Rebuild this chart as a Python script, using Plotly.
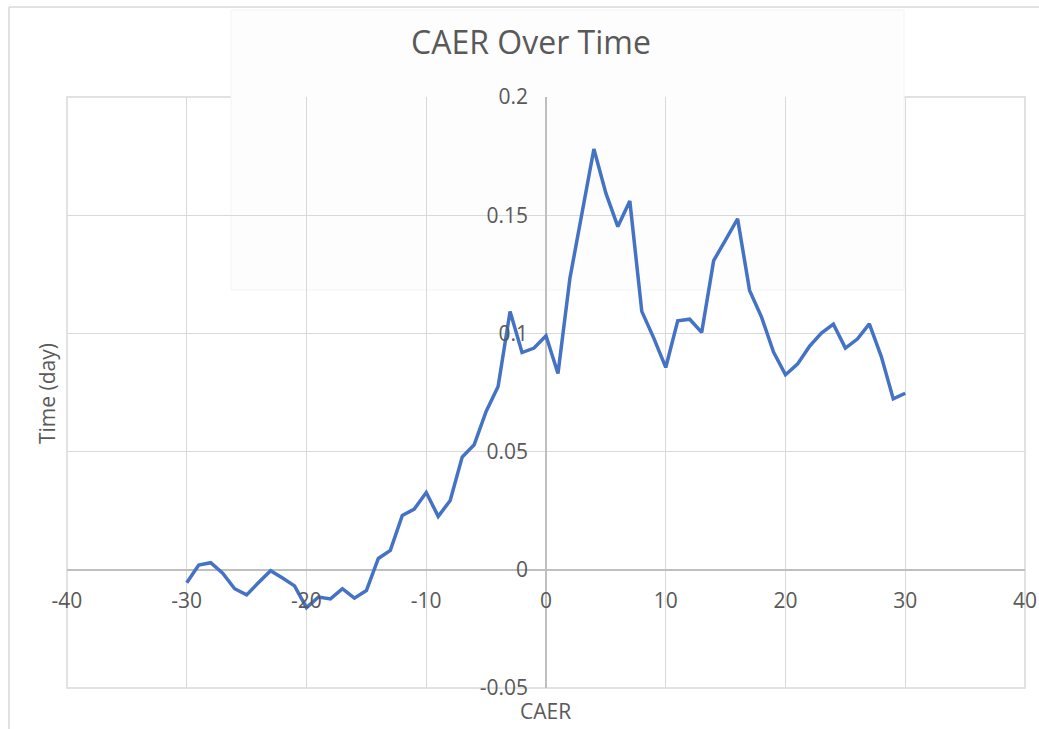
import plotly.graph_objects as go

# Data
days = list(range(-30, 31))
caer = [
    -0.0055, 0.0020, 0.0030, -0.0014, -0.0080, -0.0106, -0.0054, -0.0004, -0.0035, -0.0068,
    -0.0160, -0.0115, -0.0123, -0.0080, -0.0120, -0.0088, 0.0048, 0.0082, 0.0230, 0.0257,
    0.0327, 0.0226, 0.0293, 0.0477, 0.0529, 0.0670, 0.0775, 0.1093, 0.0919, 0.0938,
    0.0990, 0.0830, 0.1234, 0.1516, 0.1780, 0.1593, 0.1452, 0.1560, 0.1093, 0.0980,
    0.0856, 0.1053, 0.1060, 0.1004, 0.1308, 0.1396, 0.1485, 0.1182, 0.1069, 0.0921,
    0.0825, 0.0870, 0.0945, 0.1001, 0.1039, 0.0938, 0.0976, 0.1040, 0.0902, 0.0723,
    0.0747,
]

x_ticks = [-40, -30, -20, -10, 0, 10, 20, 30, 40]
x_tick_text = ["-40", "-30", "-20", "-10", "0", "10", "20", "30", "40"]
y_ticks = [-0.05, 0, 0.05, 0.1, 0.15, 0.2]
y_tick_text = ["-0.05", "0", "0.05", "0.1", "0.15", "0.2"]

title_text = "CAER Over Time"
x_title = "CAER"
y_title = "Time (day)"

FONT = "Open Sans"
TXT = "#595959"
GRID = "#d9d9d9"
AXIS = "#bfbfbf"

L, R, T, B = 67, 1025, 97, 688

fig = go.Figure()
fig.add_trace(go.Scatter(
    x=days, y=caer, mode="lines",
    line=dict(color="#4472C4", width=3.5),
    showlegend=False, hoverinfo="x+y",
))

fig.update_layout(
    width=1039, height=729,
    margin=dict(l=L, r=1039 - R, t=T, b=729 - B, autoexpand=False),
    paper_bgcolor="white", plot_bgcolor="white",
    font=dict(family=FONT, color=TXT),
    title=dict(text=title_text, x=531 / 1039, xanchor="center",
               y=1 - 43 / 729, yanchor="middle",
               font=dict(family=FONT, size=32, color=TXT)),
    xaxis=dict(
        range=[-40, 40], tickvals=x_ticks, ticktext=x_tick_text,
        showgrid=True, gridcolor=GRID, gridwidth=1.3,
        zeroline=True, zerolinecolor=AXIS, zerolinewidth=1.6,
        showline=False, anchor="free", position=0.2, automargin=False,
        ticks="", ticklabelstandoff=16, ticklabeloverflow="allow",
        tickfont=dict(family=FONT, size=21, color=TXT),
    ),
    yaxis=dict(
        range=[-0.05, 0.2], tickvals=y_ticks, ticktext=y_tick_text,
        showgrid=True, gridcolor=GRID, gridwidth=1.3,
        zeroline=True, zerolinecolor=AXIS, zerolinewidth=1.6,
        showline=False, anchor="free", position=0.5, automargin=False,
        ticks="", ticklabelstandoff=18,
        tickfont=dict(family=FONT, size=21, color=TXT),
    ),
)

# plot-area frame
fig.add_shape(type="rect", xref="paper", yref="paper", x0=0, x1=1, y0=0, y1=1,
              line=dict(color=GRID, width=1.5), layer="below")


def px_x(p):
    return (p - L) / (R - L)


def px_y(p):
    return (B - p) / (B - T)


# faint background panel (screenshot artifact)
fig.add_shape(type="rect", xref="paper", yref="paper",
              x0=px_x(231), x1=px_x(904), y0=px_y(290), y1=px_y(10),
              line=dict(color="#f4f4f4", width=1), fillcolor="#fdfdfd", layer="below")

# outer chart border (top and left)
fig.add_shape(type="line", xref="paper", yref="paper",
              x0=px_x(9), x1=px_x(1045), y0=px_y(7), y1=px_y(7),
              line=dict(color=GRID, width=1.5))
fig.add_shape(type="line", xref="paper", yref="paper",
              x0=px_x(9), x1=px_x(9), y0=px_y(7), y1=px_y(735),
              line=dict(color=GRID, width=1.5))

fig.add_annotation(text=x_title, xref="paper", yref="paper",
                   x=px_x(545), y=px_y(711), xanchor="center", yanchor="middle",
                   showarrow=False, font=dict(family=FONT, size=21, color=TXT))
fig.add_annotation(text=y_title, xref="paper", yref="paper",
                   x=px_x(47), y=px_y(394), xanchor="center", yanchor="middle",
                   showarrow=False, textangle=-90,
                   font=dict(family=FONT, size=21, color=TXT))

fig.write_html("out.html", config={"displayModeBar": False},
               post_script="document.body.style.margin='0';")
